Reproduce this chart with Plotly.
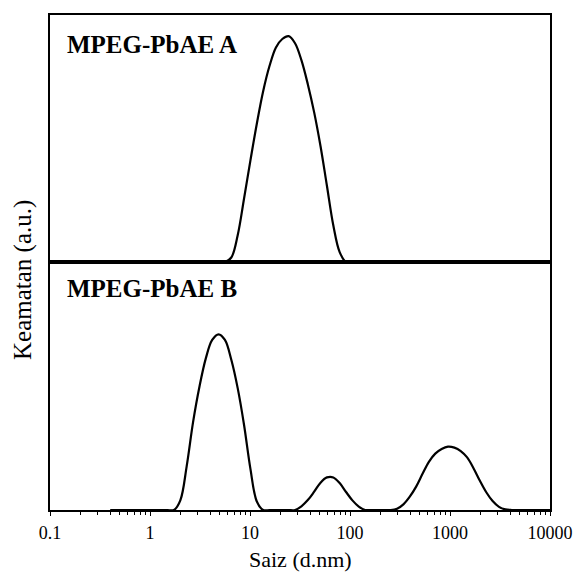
import plotly.graph_objects as go

# Particle size bins (d.nm)
sizes = [0.4, 0.4632, 0.5365, 0.6213, 0.7195, 0.8332, 0.9649, 1.117, 1.294, 1.499,
         1.736, 2.010, 2.328, 2.696, 3.122, 3.615, 4.187, 4.849, 5.615, 6.503,
         7.531, 8.721, 10.10, 11.70, 13.54, 15.69, 18.17, 21.04, 24.36, 28.21,
         32.67, 37.84, 43.82, 50.75, 58.77, 68.06, 78.82, 91.28, 105.7, 122.4,
         141.8, 164.2, 190.1, 220.2, 255.0, 295.3, 342.0, 396.1, 458.7, 531.2,
         615.1, 712.4, 825.0, 955.4, 1106, 1281, 1484, 1718, 1990, 2305,
         2669, 3091, 3580, 4145, 4801, 5560, 6439, 7456, 8635, 10000]

# Intensity, MPEG-PbAE A
intensity_a = [0, 0, 0, 0, 0, 0, 0, 0, 0, 0,
               0, 0, 0, 0, 0, 0, 0, 0, 0, 0.32,
               1.9, 4.5, 7.2, 9.8, 12.1, 13.9, 15.2, 15.8, 16.0, 15.5,
               14.3, 12.6, 10.6, 8.2, 5.4, 2.6, 0.7, 0, 0, 0,
               0, 0, 0, 0, 0, 0, 0, 0, 0, 0,
               0, 0, 0, 0, 0, 0, 0, 0, 0, 0,
               0, 0, 0, 0, 0, 0, 0, 0, 0, 0]

# Intensity, MPEG-PbAE B
intensity_b = [0, 0, 0, 0, 0, 0, 0, 0, 0, 0,
               0, 0.68, 3.1, 6.2, 8.7, 10.7, 12.0, 12.4, 12.0, 10.6,
               8.6, 6.0, 2.9, 0.6, 0, 0, 0, 0, 0, 0,
               0.26, 0.70, 1.29, 1.93, 2.30, 2.30, 1.90, 1.27, 0.68, 0.24,
               0, 0, 0, 0, 0, 0.09, 0.40, 0.94, 1.65, 2.55,
               3.40, 3.98, 4.31, 4.47, 4.40, 4.16, 3.71, 2.95, 2.06, 1.25,
               0.63, 0.22, 0.04, 0, 0, 0, 0, 0, 0, 0]

tick_vals = [0.1, 1, 10, 100, 1000, 10000]
tick_text = ["0.1", "1", "10", "100", "1000", "10000"]
panel_labels = ["MPEG-PbAE A", "MPEG-PbAE B"]

minor_vals = [d * k for d in tick_vals[:-1] for k in range(2, 10)]

SERIF = "Liberation Serif, Times New Roman, serif"
line_style = dict(color="black", width=2.2, shape="spline", smoothing=1.0)

fig = go.Figure()
fig.add_trace(go.Scatter(x=sizes, y=intensity_a, mode="lines", line=line_style,
                         xaxis="x2", yaxis="y2", showlegend=False, hoverinfo="skip"))
fig.add_trace(go.Scatter(x=sizes, y=intensity_b, mode="lines", line=line_style,
                         xaxis="x", yaxis="y", showlegend=False, hoverinfo="skip"))

split = 0.501
frame = dict(showline=True, linecolor="black", linewidth=1.5, mirror=True,
             showgrid=False, zeroline=False, automargin=False)

fig.update_layout(
    width=574, height=572,
    margin=dict(l=50, r=24, t=15, b=62, autoexpand=False),
    paper_bgcolor="white", plot_bgcolor="white",
    xaxis=dict(type="log", range=[-1, 4], domain=[0, 1], anchor="y",
               ticks="outside", ticklen=4, tickwidth=1, tickcolor="black",
               tickvals=tick_vals, ticktext=tick_text, ticklabelstandoff=2,
               tickfont=dict(family=SERIF, size=18, color="black"),
               minor=dict(ticks="outside", ticklen=3, tickwidth=1, tickcolor="black",
                          tickvals=minor_vals, showgrid=False),
               **frame),
    yaxis=dict(domain=[0, split], range=[0, 17.5], anchor="x",
               showticklabels=False, ticks="", **frame),
    xaxis2=dict(type="log", range=[-1, 4], domain=[0, 1], anchor="y2", matches="x",
                showticklabels=False, ticks="", **frame),
    yaxis2=dict(domain=[split, 1], range=[0, 17.5], anchor="x2",
                showticklabels=False, ticks="", **frame),
    annotations=[
        dict(text="<b>" + panel_labels[0] + "</b>", xref="paper", yref="paper",
             x=0.03, y=0.9414, xanchor="left", yanchor="middle", showarrow=False,
             font=dict(family=SERIF, size=25, color="black")),
        dict(text="<b>" + panel_labels[1] + "</b>", xref="paper", yref="paper",
             x=0.03, y=0.4475, xanchor="left", yanchor="middle", showarrow=False,
             font=dict(family=SERIF, size=25, color="black")),
        dict(text="Saiz (d.nm)", xref="paper", yref="paper",
             x=0.5, y=-0.099, xanchor="center", yanchor="middle", showarrow=False,
             font=dict(family=SERIF, size=22, color="black")),
        dict(text="Keamatan (a.u.)", xref="paper", yref="paper",
             x=-0.054, y=0.4646, xanchor="center", yanchor="middle", showarrow=False,
             textangle=-90, font=dict(family=SERIF, size=25, color="black")),
    ],
)

fig.write_html("out.html",
               config={"displayModeBar": False},
               post_script="document.body.style.margin='0';document.body.style.overflow='hidden';")
